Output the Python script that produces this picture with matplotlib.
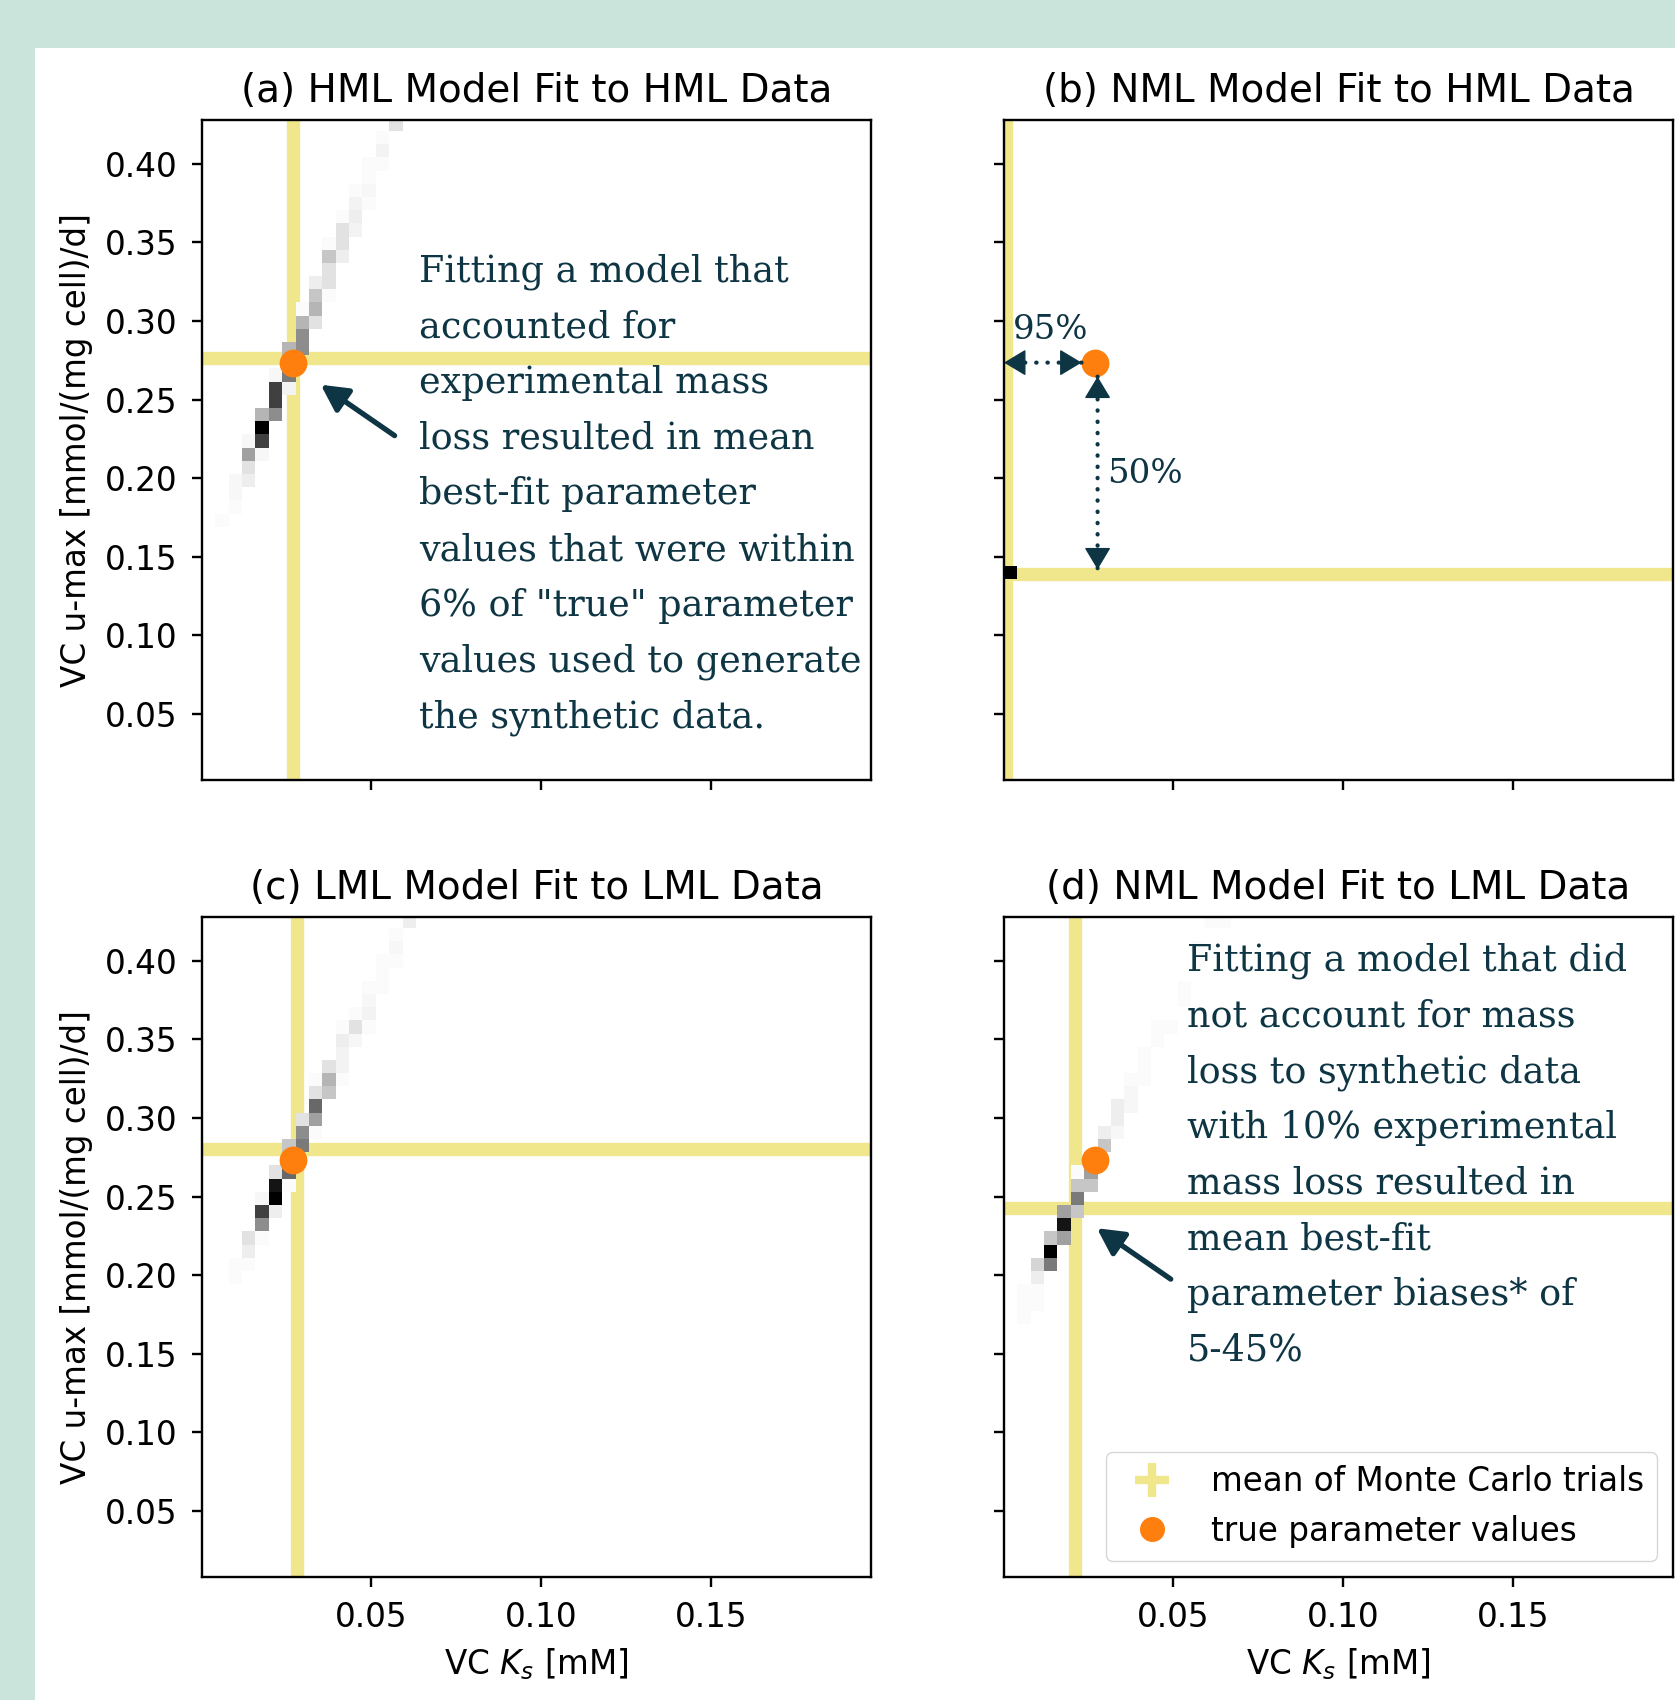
import numpy as np
import matplotlib
matplotlib.use('Agg')
import matplotlib.pyplot as plt
from matplotlib.lines import Line2D
from matplotlib.patches import Rectangle

S = 2.14  # scale of the original figure's default sizes

# histogram bins (50 x 51)
x_start, x_step, n_x = 0.0004, 0.00393, 50
y_start, y_step, n_y = 0.001, 0.0084, 51

# counts of Monte Carlo best fits per bin: (x bin, y bin, count)
cells_a = [(14, 50, 6), (13, 49, 1), (13, 48, 3), (13, 47, 1), (12, 47, 1), (12, 46, 1), (12, 45, 2),
           (11, 45, 1), (11, 44, 3), (12, 44, 1), (10, 43, 1), (11, 43, 4), (10, 42, 6), (11, 42, 3),
           (9, 41, 1), (10, 41, 6), (9, 40, 10), (10, 40, 4), (9, 39, 6), (8, 38, 4), (9, 38, 6),
           (8, 37, 10), (9, 37, 1), (7, 36, 1), (8, 36, 12), (7, 35, 12), (8, 35, 6), (7, 34, 16),
           (6, 33, 12), (7, 33, 16), (6, 32, 14), (5, 31, 2), (6, 31, 18), (5, 30, 24), (6, 30, 3),
           (5, 29, 24), (4, 28, 12), (5, 28, 16), (4, 27, 30), (3, 26, 2), (4, 26, 24), (3, 25, 14),
           (4, 25, 2), (3, 24, 6), (2, 23, 2), (3, 23, 4), (2, 22, 2), (2, 21, 1), (1, 20, 1)]
cells_b = [(0, 16, 30)]
cells_c = [(15, 50, 4), (14, 49, 1), (14, 48, 2), (13, 47, 1), (14, 47, 1), (13, 46, 1), (12, 45, 1),
           (13, 45, 1), (12, 44, 2), (12, 43, 3), (11, 43, 1), (11, 42, 6), (10, 42, 1), (12, 42, 1),
           (10, 41, 4), (11, 41, 2), (10, 40, 3), (10, 39, 3), (9, 39, 6), (9, 38, 12), (8, 38, 1),
           (10, 38, 1), (8, 37, 6), (9, 37, 10), (8, 36, 20), (7, 35, 6), (8, 35, 14), (7, 34, 16),
           (8, 34, 1), (6, 33, 10), (7, 33, 18), (6, 32, 10), (5, 31, 6), (6, 31, 20), (5, 30, 28),
           (6, 30, 1), (5, 29, 30), (4, 29, 2), (4, 28, 24), (5, 28, 4), (4, 27, 16), (3, 26, 6),
           (4, 26, 1), (3, 25, 4), (2, 24, 1), (3, 24, 1), (2, 23, 1)]
cells_d = [(15, 50, 1), (16, 50, 1), (14, 48, 1), (14, 47, 1), (13, 45, 1), (13, 44, 1), (11, 42, 1),
           (12, 42, 1), (11, 41, 1), (10, 40, 1), (10, 39, 1), (9, 38, 1), (10, 38, 1), (9, 37, 2),
           (8, 36, 4), (9, 36, 2), (8, 35, 4), (7, 34, 4), (8, 34, 2), (7, 33, 10), (6, 32, 12),
           (5, 31, 1), (6, 31, 14), (5, 30, 10), (6, 30, 10), (5, 29, 18), (4, 28, 14), (5, 28, 10),
           (4, 27, 28), (3, 26, 10), (4, 26, 14), (3, 25, 30), (2, 24, 8), (3, 24, 18), (2, 23, 4),
           (1, 22, 1), (2, 22, 1), (1, 21, 1), (2, 21, 1), (1, 20, 1)]

# mean of Monte Carlo trials (Ks, u-max) and true parameter values
means = [(0.0272, 0.2763), (0.001, 0.1386), (0.0282, 0.2800), (0.0213, 0.2425)]
true_ks, true_umax = 0.027, 0.2735

titles = ['(a) HML Model Fit to HML Data', '(b) NML Model Fit to HML Data',
          '(c) LML Model Fit to LML Data', '(d) NML Model Fit to LML Data']
note_a = ('Fitting a model that\naccounted for\nexperimental mass\nloss resulted in mean\n'
          'best-fit parameter\nvalues that were within\n6% of "true" parameter\n'
          'values used to generate\nthe synthetic data.')
note_d = ('Fitting a model that did\nnot account for mass\nloss to synthetic data\n'
          'with 10% experimental\nmass loss resulted in\nmean best-fit\n'
          'parameter biases* of\n5-45%')

F = 23.5
plt.rcParams.update({
    'font.size': F, 'axes.linewidth': 0.8 * S,
    'xtick.major.size': 3.5 * S, 'ytick.major.size': 3.5 * S,
    'xtick.major.width': 0.8 * S, 'ytick.major.width': 0.8 * S,
    'xtick.major.pad': 10, 'ytick.major.pad': 10,
    'axes.titlesize': 28, 'axes.titlepad': 6 * S, 'axes.labelpad': 4 * S,
    'legend.fontsize': F,
})

W, H = 1675, 1700
fig = plt.figure(figsize=(W / 100, H / 100), dpi=100, facecolor='#cbe4db')
fig.patches.append(Rectangle((35 / W, 0), 1, 1 - 48 / H, transform=fig.transFigure,
                             facecolor='white', edgecolor='none', zorder=-5))

boxes = [(202, 120), (1004, 120), (202, 917), (1004, 917)]
aw, ah = 669, 660
text_col = '#0e3543'
khaki = '#f0e68c'

xe = x_start + x_step * np.arange(n_x + 1)
ye = y_start + y_step * np.arange(n_y + 1)

axes = []
for i, (cells, (l, t)) in enumerate(zip([cells_a, cells_b, cells_c, cells_d], boxes)):
    ax = fig.add_axes([l / W, 1 - (t + ah) / H, aw / W, ah / H])
    axes.append(ax)
    counts = np.zeros((n_y, n_x))
    for kx, ky, c in cells:
        counts[ky, kx] = c
    ax.pcolormesh(xe, ye, np.ma.masked_equal(counts, 0), cmap='Greys', vmin=0, vmax=30, zorder=2)
    mx, my = means[i]
    ax.axvline(mx, color=khaki, lw=9.6, zorder=1)
    ax.axhline(my, color=khaki, lw=9.6, zorder=1)
    ax.plot(true_ks, true_umax, 'o', color='#ff7f0e', ms=19, zorder=3)
    ax.set_xlim(0.0004, 0.197)
    ax.set_ylim(0.0077, 0.428)
    ax.set_xticks([0.05, 0.10, 0.15])
    ax.set_yticks([0.05, 0.10, 0.15, 0.20, 0.25, 0.30, 0.35, 0.40])
    ax.set_title(titles[i])
    if i < 2:
        ax.set_xticklabels([])
    else:
        ax.set_xlabel('VC $K_s$ [mM]')
    if i % 2 == 1:
        ax.set_yticklabels([])
    else:
        ax.set_ylabel('VC u-max [mmol/(mg cell)/d]')

serif = dict(family='DejaVu Serif', color=text_col)
solid = dict(arrowstyle='-|>,head_length=0.8,head_width=0.42', lw=3.8, color=text_col,
             shrinkA=0, shrinkB=0, mutation_scale=20)

# annotations
ax = axes[0]
ax.text(0.0643, 0.1894, note_a, ha='left', va='center', fontsize=26.3, linespacing=1.7,
        zorder=4, **serif)
ax.annotate('', xy=(0.0353, 0.2594), xytext=(0.0570, 0.2270), arrowprops=solid)

ax = axes[1]
dotted = dict(arrowstyle='-', lw=3, color=text_col, linestyle=(0, (0.1, 2.6)),
              capstyle='round', shrinkA=0, shrinkB=0)
head = dict(arrowstyle='-|>,head_length=0.7,head_width=0.42', lw=1, color=text_col,
            shrinkA=0, shrinkB=0, mutation_scale=20)
ax.annotate('', xy=(0.0004, true_umax), xytext=(0.0232, true_umax), arrowprops=dotted)
ax.annotate('', xy=(0.0004, true_umax), xytext=(10, 0), textcoords='offset points', arrowprops=head)
ax.annotate('', xy=(0.0232, true_umax), xytext=(-10, 0), textcoords='offset points', arrowprops=head)
ax.annotate('', xy=(0.0279, 0.1418), xytext=(0.0279, 0.2646), arrowprops=dotted)
ax.annotate('', xy=(0.0279, 0.1418), xytext=(0, 10), textcoords='offset points', arrowprops=head)
ax.annotate('', xy=(0.0279, 0.2646), xytext=(0, -10), textcoords='offset points', arrowprops=head)
ax.text(0.0142, 0.2943, '95%', ha='center', va='center', fontsize=24.5, **serif)
ax.text(0.0418, 0.2025, '50%', ha='center', va='center', fontsize=24.5, **serif)

ax = axes[3]
ax.text(0.0542, 0.2761, note_d, ha='left', va='center', fontsize=26.3, linespacing=1.7,
        zorder=4, **serif)
ax.annotate('', xy=(0.0277, 0.2298), xytext=(0.0494, 0.1974), arrowprops=solid)
handles = [Line2D([], [], ls='none', marker='+', ms=24, mew=6, color=khaki),
           Line2D([], [], ls='none', marker='o', ms=17, color='#ff7f0e')]
ax.legend(handles, ['mean of Monte Carlo trials', 'true parameter values'], loc='lower right')

fig.savefig('out.png', dpi=100, facecolor=fig.get_facecolor())
